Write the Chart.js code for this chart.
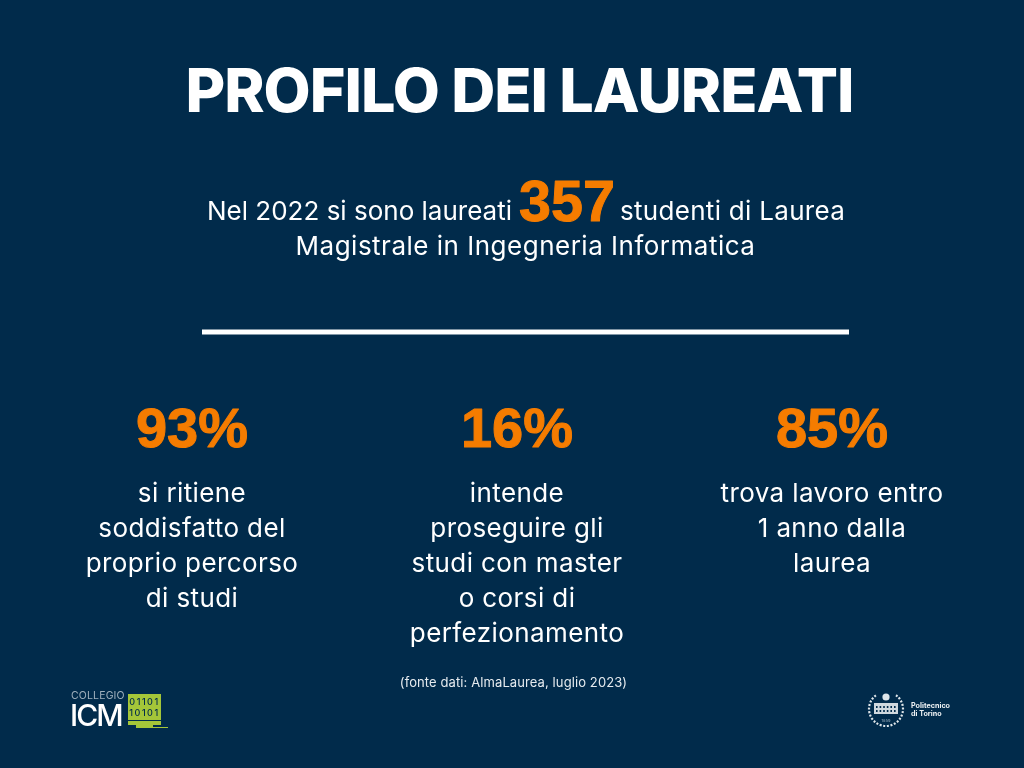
<!DOCTYPE html>
<html lang="it">
<head>
<meta charset="utf-8">
<title>Profilo dei laureati</title>
<script src="https://cdn.jsdelivr.net/npm/chart.js@4"></script>
<style>
  html, body { margin: 0; padding: 0; background: #012b4b; }
  canvas { display: block; }
</style>
</head>
<body>
<canvas id="profileChart" width="1024" height="768"></canvas>
<script>
const titleText = 'PROFILO DEI LAUREATI';
const graduates = 357;
const introBefore = 'Nel 2022 si sono laureati';
const introAfter = 'studenti di Laurea';
const introSecond = 'Magistrale in Ingegneria Informatica';
const statValues = [93, 16, 85];
const statCaptions = [
  ['si ritiene', 'soddisfatto del', 'proprio percorso', 'di studi'],
  ['intende', 'proseguire gli', 'studi con master', 'o corsi di', 'perfezionamento'],
  ['trova lavoro entro', '1 anno dalla', 'laurea']
];
const sourceNote = '(fonte dati: AlmaLaurea, luglio 2023)';

const BG = '#012b4b';
const ORANGE = '#f57c00';
const WHITE = '#ffffff';
const BODY_FONT = 'Inter';
const NUM_FONT = '"Liberation Sans"';
const columnX = [192, 517, 832];

function put(ctx, text, x, y, size, weight, color, align, spacing, family) {
  ctx.font = weight + ' ' + size + 'px ' + (family || BODY_FONT);
  ctx.fillStyle = color;
  ctx.textAlign = align || 'center';
  ctx.textBaseline = 'alphabetic';
  ctx.letterSpacing = (spacing || 0) + 'px';
  ctx.fillText(text, x, y);
  ctx.letterSpacing = '0px';
}

// big orange numbers are a bit heavier than Liberation bold, so thicken them
function putNumber(ctx, text, x, y, size) {
  put(ctx, text, x, y, size, 700, ORANGE, 'center', 0, NUM_FONT);
  ctx.strokeStyle = ORANGE;
  ctx.lineWidth = 1;
  ctx.lineJoin = 'round';
  ctx.strokeText(text, x, y);
}

function drawIcmLogo(ctx) {
  put(ctx, 'COLLEGIO', 71, 699, 10.5, 400, '#9fb0bd', 'left', 0.15);
  put(ctx, 'ICM', 70, 726, 30, 500, WHITE, 'left', -2);
  ctx.fillStyle = '#a4c639';
  ctx.fillRect(128, 694, 33, 26);
  ctx.fillRect(128, 721, 33, 4);
  ctx.fillRect(136, 725, 17, 3);
  ctx.fillRect(153, 727, 15, 1);
  put(ctx, '01101', 144.5, 705, 9, 500, BG, 'center', 1.5);
  put(ctx, '10101', 144.5, 716, 9, 500, BG, 'center', 1.5);
}

function drawPolitoLogo(ctx) {
  const cx = 886, cy = 709, r = 17;
  ctx.strokeStyle = '#dfe6ea';
  ctx.lineWidth = 2.2;
  ctx.setLineDash([2, 1.6]);
  ctx.beginPath();
  ctx.arc(cx, cy, r, Math.PI * -0.3, Math.PI * 1.3);
  ctx.stroke();
  ctx.setLineDash([]);
  ctx.fillStyle = '#cfd8de';
  ctx.fillRect(cx - 12, cy - 6, 24, 11);
  ctx.fillStyle = BG;
  for (let w = 0; w < 6; w++) {
    ctx.fillRect(cx - 10 + w * 3.6, cy - 3, 1.6, 2);
    ctx.fillRect(cx - 10 + w * 3.6, cy + 1, 1.6, 2);
  }
  ctx.fillStyle = '#dfe6ea';
  ctx.beginPath();
  ctx.arc(cx, cy - 12, 3.6, 0, Math.PI * 2);
  ctx.fill();
  put(ctx, '1859', cx, cy + 12.5, 4, 400, '#9fb0bd', 'center');
  put(ctx, 'Politecnico', 911, 708, 7.2, 700, '#eef2f4', 'left');
  put(ctx, 'di Torino', 911, 715.5, 7.2, 700, '#eef2f4', 'left');
}

const infographicText = {
  id: 'infographicText',
  afterDatasetsDraw(chart) {
    const ctx = chart.ctx;
    ctx.save();
    put(ctx, titleText, 519.5, 112, 61, 800, WHITE, 'center', -1);
    put(ctx, introBefore, 207, 220, 26, 400, WHITE, 'left', 0);
    putNumber(ctx, String(graduates), 567, 221, 57.5);
    put(ctx, introAfter, 620, 220, 26, 400, WHITE, 'left', 0.3);
    put(ctx, introSecond, 525.5, 255, 26, 400, WHITE, 'center', 0.5);

    chart.getDatasetMeta(0).data.forEach((pt, i) => {
      putNumber(ctx, statValues[i] + '%', pt.x, pt.y, 56);
      statCaptions[i].forEach((line, j) => {
        put(ctx, line, pt.x, 502 + j * 35, 26, 400, WHITE, 'center', 0.4);
      });
    });

    put(ctx, sourceNote, 513.5, 687, 13, 400, '#e6ebef', 'center', 0.1);
    drawIcmLogo(ctx);
    drawPolitoLogo(ctx);
    ctx.restore();
  }
};

new Chart(document.getElementById('profileChart').getContext('2d'), {
  type: 'scatter',
  data: {
    datasets: [
      {
        label: 'Laureati (%)',
        data: statValues.map((v, i) => ({ x: columnX[i], y: 447 })),
        pointRadius: 0,
        showLine: false
      },
      {
        label: 'Divider',
        data: [{ x: 202, y: 332 }, { x: 849, y: 332 }],
        showLine: true,
        borderColor: WHITE,
        borderWidth: 5,
        pointRadius: 0
      }
    ]
  },
  options: {
    responsive: false,
    animation: false,
    layout: { padding: 0 },
    scales: {
      x: { type: 'linear', display: false, min: 0, max: 1024 },
      y: { type: 'linear', display: false, min: 0, max: 768, reverse: true }
    },
    plugins: {
      legend: { display: false },
      tooltip: { enabled: false },
      title: { display: false }
    }
  },
  plugins: [infographicText]
});
</script>
</body>
</html>
